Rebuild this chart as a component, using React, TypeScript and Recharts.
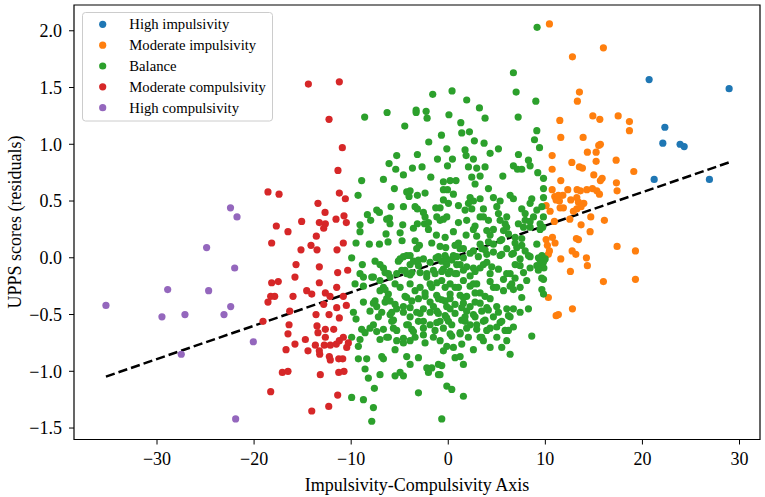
import React from 'react';
import { ScatterChart, Scatter, XAxis, YAxis, ReferenceLine, ReferenceArea } from 'recharts';

// Tick positions
const xTicks = [-30, -20, -10, 0, 10, 20, 30];
const yTicks = [-1.5, -1, -0.5, 0, 0.5, 1, 1.5, 2];

// Group points [axis score, UPPS residual]
const highImpulsivity: [number, number][] = [
  [20.69, 1.57], [28.93, 1.49], [22.31, 1.15], [22.1, 1.01], [23.88, 1.0], [24.3, 0.98], [21.21, 0.69], [26.9, 0.69],
];

const moderateImpulsivity: [number, number][] = [
  [10.42, 2.06], [15.98, 1.85], [12.79, 1.77], [13.51, 1.46], [13.3, 1.38], [11.49, 1.21], [14.89, 1.25], [15.61, 1.22],
  [17.5, 1.25], [18.66, 1.2], [18.66, 1.12], [11.59, 1.06], [13.89, 1.06], [15.67, 1.0], [15.5, 0.99], [10.7, 0.9],
  [14.33, 0.93], [15.23, 0.93], [12.73, 0.84], [15.23, 0.85], [17.29, 0.86], [13.51, 0.8], [13.82, 0.79], [10.7, 0.78],
  [19.11, 0.76], [14.99, 0.73], [15.85, 0.7], [15.67, 0.68], [11.59, 0.68], [17.32, 0.66], [17.39, 0.59], [10.7, 0.6],
  [12.31, 0.6], [13.27, 0.6], [13.61, 0.59], [14.27, 0.6], [14.85, 0.61], [15.3, 0.59], [15.57, 0.56], [10.97, 0.54],
  [11.34, 0.55], [11.8, 0.55], [11.11, 0.51], [11.45, 0.5], [12.62, 0.51], [13.24, 0.53], [13.41, 0.49], [13.96, 0.48],
  [10.08, 0.46], [11.52, 0.44], [11.86, 0.44], [10.49, 0.41], [12.89, 0.41], [13.24, 0.43], [13.68, 0.45], [14.68, 0.36],
  [16.08, 0.33], [12.52, 0.34], [10.93, 0.32], [13.68, 0.29], [14.61, 0.23], [10.08, 0.16], [10.73, 0.18], [11.0, 0.13],
  [13.2, 0.17], [13.41, 0.16], [10.21, 0.11], [10.42, 0.06], [10.31, 0.03], [12.76, 0.06], [13.14, 0.03], [17.39, 0.1],
  [19.28, 0.06], [11.59, -0.01], [14.23, 0.0], [14.33, -0.07], [12.58, -0.12], [15.98, -0.21], [19.28, -0.19],
  [10.31, -0.35], [11.11, -0.51], [11.34, -0.5], [12.79, -0.45],
];

const balance: [number, number][] = [
  // upper left block
  [-1.6, 1.44], [-8.61, 1.24], [-6.3, 1.28], [-3.31, 1.3], [-3.31, 1.28], [-2.28, 1.29], [-2.18, 1.23], [0.07, 1.26],
  [-4.48, 1.16], [-0.7, 1.08], [-2.01, 1.02], [-0.15, 0.96], [-5.31, 0.9], [-3.18, 0.91], [-6.1, 0.83], [-1.11, 0.87],
  [-5.41, 0.78], [-3.69, 0.79], [-2.7, 0.8], [-0.08, 0.81], [-4.62, 0.73], [-8.92, 0.68], [-6.68, 0.69], [-1.8, 0.71],
  [-0.5, 0.67], [-5.55, 0.61], [-9.29, 0.55], [-3.93, 0.59], [-4.28, 0.58], [-4.04, 0.54], [-3.18, 0.55], [-2.39, 0.57],
  [-0.5, 0.6], [-0.08, 0.6], [-7.37, 0.42], [-7.09, 0.4], [-5.89, 0.45], [-4.62, 0.45], [-3.42, 0.45], [-3.18, 0.43],
  [-1.29, 0.44], [-0.5, 0.51], [0.02, 0.48], [-8.33, 0.38], [-7.99, 0.33], [-6.06, 0.35], [-6.34, 0.34], [-6.0, 0.3],
  [-2.56, 0.4], [-2.39, 0.36], [-2.45, 0.3], [-2.04, 0.31], [-1.18, 0.36], [-0.84, 0.33], [-0.5, 0.34], [-0.15, 0.36],
  [-9.09, 0.29], [-9.09, 0.23], [-4.69, 0.29], [-3.59, 0.26], [-3.18, 0.3], [-2.04, 0.25], [-6.41, 0.21], [-4.96, 0.22],
  [-1.22, 0.2], [-0.32, 0.18], [-9.5, 0.13], [-8.13, 0.12], [-7.09, 0.12], [-6.2, 0.14], [-4.76, 0.15], [-3.42, 0.15],
  [-2.97, 0.11], [-1.7, 0.13], [-0.26, 0.09], [-0.84, 0.44],
  // lower left block
  [-9.95, 0.0], [-8.85, -0.06], [-7.54, -0.03], [-7.03, -0.06], [-6.68, -0.09], [-6.51, -0.13], [-4.96, -0.01],
  [-4.28, 0.02], [-3.93, -0.06], [-3.59, -0.03], [-3.07, -0.07], [-2.56, -0.01], [-1.87, -0.04], [-1.25, 0.0],
  [-0.67, -0.03], [-0.15, -0.01], [-9.09, -0.14], [-8.74, -0.17], [-7.88, -0.17], [-7.03, -0.2], [-6.68, -0.26],
  [-5.99, -0.17], [-5.31, -0.14], [-4.79, -0.11], [-4.28, -0.14], [-3.76, -0.13], [-2.9, -0.13], [-2.21, -0.14],
  [-1.53, -0.11], [-0.5, -0.1], [0.02, -0.14], [-9.6, -0.23], [-8.74, -0.25], [-7.03, -0.29], [-6.17, -0.32],
  [-4.96, -0.26], [-3.93, -0.23], [-3.42, -0.29], [-2.9, -0.26], [-1.87, -0.23], [-1.18, -0.22], [-0.32, -0.26],
  [0.19, -0.23], [-8.74, -0.39], [-7.54, -0.38], [-6.51, -0.39], [-5.99, -0.38], [-5.48, -0.41], [-4.28, -0.35],
  [-3.76, -0.38], [-3.07, -0.36], [-2.39, -0.34], [-1.87, -0.39], [-1.01, -0.36], [-0.32, -0.38], [-9.77, -0.48],
  [-9.5, -0.54], [-8.06, -0.47], [-6.85, -0.48], [-5.99, -0.5], [-5.31, -0.45], [-4.62, -0.48], [-3.93, -0.44],
  [-3.25, -0.48], [-2.56, -0.45], [-1.87, -0.48], [-1.18, -0.47], [-0.32, -0.51], [0.19, -0.45], [-8.92, -0.63],
  [-8.57, -0.66], [-8.06, -0.62], [-7.71, -0.59], [-6.68, -0.63], [-5.82, -0.56], [-5.65, -0.62], [-4.28, -0.59],
  [-3.76, -0.63], [-3.07, -0.56], [-2.56, -0.62], [-1.87, -0.59], [-1.18, -0.57], [-0.5, -0.62], [0.02, -0.56],
  [-9.95, -0.7], [-9.09, -0.72], [-9.26, -0.78], [-7.03, -0.72], [-6.17, -0.7], [-5.31, -0.73], [-5.48, -0.81],
  [-4.62, -0.75], [-3.93, -0.73], [-3.42, -0.7], [-2.39, -0.75], [-1.53, -0.7], [-0.84, -0.73], [-0.15, -0.78],
  [-0.5, -0.82], [-9.26, -0.89], [-8.4, -0.89], [-6.85, -0.87], [-6.68, -0.89], [-4.28, -0.87], [-3.93, -0.94],
  [-3.07, -0.88], [-2.21, -0.97], [-1.7, -0.97], [-1.01, -0.94], [-2.04, -1.01], [-1.01, -1.03], [-8.57, -0.98],
  [-8.23, -1.06], [-7.03, -1.03], [-5.48, -1.04], [-4.96, -1.01], [-4.62, -1.04], [-7.61, -1.15], [-3.07, -1.19],
  [-0.15, -1.13], [-9.95, -1.23], [-8.74, -1.25], [-7.71, -1.32], [-7.88, -1.44], [-0.67, -1.42],
  // dense core, left half
  [1.05, 0.13], [-3.25, 0.08], [-0.84, 0.1], [-5.14, -0.03], [-4.62, 0.01], [-3.93, 0.02], [-3.08, -0.02],
  [-1.02, 0.01], [-0.33, 0.02], [0.36, -0.02], [0.87, 0.01], [-0.16, -0.06], [1.22, -0.06], [-7.71, -0.17],
  [-6.17, -0.14], [-5.48, -0.23], [-4.45, -0.11], [-3.93, -0.15], [-2.22, -0.17], [-1.36, -0.14], [-0.67, -0.12],
  [0.19, -0.12], [0.87, -0.14], [-6.51, -0.28], [-1.7, -0.26], [1.05, -0.26], [-7.71, -0.4], [-6.34, -0.36],
  [-4.45, -0.34], [-2.39, -0.31], [-1.19, -0.33], [-0.67, -0.37], [0.19, -0.36], [1.22, -0.33], [1.56, -0.4],
  [-7.37, -0.43], [-4.62, -0.43], [-1.53, -0.43], [-0.16, -0.43], [-7.2, -0.52], [-5.82, -0.48], [-5.65, -0.55],
  [-3.93, -0.52], [-2.9, -0.49], [-2.56, -0.56], [-1.02, -0.49], [-0.16, -0.53], [0.7, -0.49], [1.39, -0.55],
  [-4.11, -0.59], [0.36, -0.59], [-7.37, -0.65], [-6.34, -0.7], [-5.31, -0.64], [-3.59, -0.65], [-2.56, -0.68],
  [-1.36, -0.64], [0.19, -0.67], [1.22, -0.67], [-4.62, -0.71],
  // upper right block
  [6.71, 1.63], [0.39, 1.47], [6.99, 1.46], [1.9, 1.39], [3.21, 1.32], [9.02, 1.38], [3.79, 1.23], [7.2, 1.24],
  [1.29, 1.19], [9.12, 1.12], [1.39, 1.1], [2.18, 1.11], [8.88, 1.04], [2.69, 1.03], [3.69, 1.01], [9.4, 0.97],
  [1.73, 0.95], [1.84, 0.9], [5.17, 0.96], [4.31, 0.92], [0.43, 0.87], [2.59, 0.87], [7.23, 0.91], [8.26, 0.86],
  [8.43, 0.81], [2.08, 0.8], [2.93, 0.79], [3.79, 0.8], [6.71, 0.81], [7.13, 0.78], [7.57, 0.78], [9.22, 0.75],
  [9.81, 0.7], [5.62, 0.72], [2.42, 0.71], [3.28, 0.72], [0.19, 0.68], [0.8, 0.68], [2.76, 0.65], [4.14, 0.61],
  [9.81, 0.61], [0.53, 0.56], [2.25, 0.53], [2.59, 0.5], [2.08, 0.48], [3.28, 0.52], [4.65, 0.53], [5.34, 0.5],
  [6.37, 0.55], [6.71, 0.52], [8.6, 0.52], [9.81, 0.53], [1.05, 0.46], [1.73, 0.42], [2.42, 0.43], [3.62, 0.43],
  [5.0, 0.45], [5.17, 0.39], [7.57, 0.43], [7.92, 0.39], [8.43, 0.48], [9.12, 0.42], [9.64, 0.45], [1.05, 0.31],
  [1.9, 0.33], [3.28, 0.36], [4.14, 0.33], [6.03, 0.36], [5.86, 0.3], [7.92, 0.33], [8.78, 0.36], [9.46, 0.3],
  [2.76, 0.28], [2.59, 0.25], [0.53, 0.23], [1.84, 0.2], [3.97, 0.24], [4.31, 0.2], [5.69, 0.24], [6.2, 0.21],
  [7.75, 0.27], [8.43, 0.27], [6.89, 0.18], [5.34, 0.15], [3.28, 0.12], [4.14, 0.14], [0.7, 0.11], [7.57, 0.11],
  [9.12, 0.12], [1.22, 0.08], [7.06, 0.09], [9.15, 2.03], [9.8, 0.36], [9.73, 0.27],
  // lower right block
  [0.53, 0.02], [1.56, 0.0], [2.59, 0.06], [3.45, 0.08], [3.97, 0.03], [4.65, 0.12], [5.51, 0.03], [6.03, 0.08],
  [6.54, 0.03], [7.92, 0.06], [8.26, 0.02], [9.29, 0.0], [9.98, -0.01], [9.46, -0.07], [0.87, -0.06], [0.7, -0.14],
  [1.56, -0.11], [2.25, -0.16], [2.59, -0.09], [3.28, -0.09], [3.97, -0.04], [4.31, -0.14], [5.17, -0.1], [5.69, -0.19],
  [6.37, -0.14], [6.89, -0.06], [7.4, -0.07], [7.75, -0.13], [8.43, -0.09], [9.12, -0.07], [9.81, -0.19], [-0.67, -0.2],
  [0.7, -0.26], [1.56, -0.35], [2.25, -0.25], [2.93, -0.23], [3.28, -0.31], [3.79, -0.34], [4.31, -0.36], [4.65, -0.26],
  [5.69, -0.29], [6.37, -0.25], [6.54, -0.23], [7.4, -0.26], [7.57, -0.35], [9.64, -0.28], [9.81, -0.32], [0.19, -0.32],
  [0.7, -0.41], [1.39, -0.44], [1.9, -0.47], [2.59, -0.5], [3.45, -0.47], [2.76, -0.39], [3.97, -0.44], [5.17, -0.48],
  [6.03, -0.45], [6.2, -0.51], [7.4, -0.48], [8.26, -0.45], [-0.85, -0.56], [1.73, -0.56], [2.25, -0.59], [3.62, -0.56],
  [4.31, -0.62], [5.34, -0.57], [6.2, -0.64], [8.6, -0.69], [0.36, -0.69], [1.22, -0.66], [2.93, -0.63], [3.45, -0.7],
  [5.0, -0.7], [6.03, -0.73], [0.53, -0.79], [1.39, -0.76], [2.59, -0.81], [3.62, -0.73], [4.31, -0.79], [5.51, -0.79],
  [6.37, -0.85], [0.7, -0.88], [1.22, -0.87], [-0.67, -0.95], [1.56, -0.94], [-0.85, -1.03], [0.36, -1.16], [1.56, -1.22],
  [9.65, 0.02], [9.8, -0.04], [9.85, -0.09],
  // dense core, right half
  [3.62, 0.36], [5.34, 0.33], [6.02, 0.27], [7.22, 0.3], [8.43, 0.32], [2.93, 0.19], [4.65, 0.25], [5.51, 0.16],
  [6.88, 0.13], [7.57, 0.17], [9.46, 0.25], [1.56, 0.08], [2.25, 0.04], [3.1, 0.01], [3.79, 0.07], [4.65, 0.05],
  [5.34, 0.02], [6.71, 0.04], [7.4, -0.01], [8.43, 0.01], [9.46, -0.02], [1.9, -0.08], [2.76, -0.12], [3.62, -0.06],
  [4.48, -0.08], [6.02, -0.14], [9.28, -0.11], [1.56, -0.2], [2.59, -0.23], [4.31, -0.21], [4.99, -0.26], [6.88, -0.18],
  [8.08, -0.2], [9.63, -0.18], [1.9, -0.34], [2.76, -0.31], [6.71, -0.28], [2.25, -0.43], [3.28, -0.4], [4.13, -0.46],
  [4.99, -0.43], [6.71, -0.45], [1.73, -0.52], [2.76, -0.52], [3.79, -0.55], [4.65, -0.52], [5.51, -0.56], [6.37, -0.52],
  [1.9, -0.62], [2.93, -0.59], [3.96, -0.64], [4.99, -0.61], [5.85, -0.64], [6.71, -0.61], [2.07, -0.7], [3.28, -0.7],
];

const moderateCompulsivity: [number, number][] = [
  [-14.41, 1.53], [-11.22, 1.55], [-12.28, 1.22], [-11.36, 0.77], [-11.22, 0.57], [-18.57, 0.58], [-17.43, 0.56],
  [-13.42, 0.48], [-12.69, 0.4], [-15.1, 0.32], [-17.71, 0.28], [-13.28, 0.31], [-12.66, 0.3], [-12.83, 0.26],
  [-11.56, 0.34], [-16.51, 0.23], [-13.59, 0.19], [-18.19, 0.13], [-14.14, 0.11], [-15.17, 0.07], [-13.52, 0.07],
  [-11.46, 0.07], [-15.68, -0.06], [-13.28, -0.08], [-11.39, -0.13], [-15.79, -0.17], [-18.19, -0.22], [-17.51, -0.21],
  [-13.28, -0.22], [-14.58, -0.29], [-14.06, -0.32], [-11.49, -0.26], [-12.66, -0.31], [-18.29, -0.34], [-17.88, -0.34],
  [-18.57, -0.39], [-15.99, -0.34], [-12.83, -0.41], [-11.49, -0.44], [-16.33, -0.47], [-13.62, -0.5], [-12.28, -0.5],
  [-11.22, -0.53], [-19.08, -0.56], [-16.4, -0.59], [-13.52, -0.6], [-13.42, -0.66], [-12.66, -0.63], [-11.8, -0.63],
  [-16.51, -0.67], [-12.66, -0.7], [-14.72, -0.72], [-15.79, -0.76], [-13.69, -0.77], [-12.77, -0.77], [-12.15, -0.77],
  [-11.53, -0.76], [-16.71, -0.81], [-14.45, -0.82], [-13.28, -0.82], [-13.24, -0.85], [-12.25, -0.87], [-12.15, -0.9],
  [-11.28, -0.89], [-17.09, -1.01], [-16.51, -1.0], [-13.18, -1.03], [-11.28, -1.01], [-18.29, -1.18], [-11.39, -1.21],
  [-12.31, -1.31], [-14.06, -1.35], [-10.91, 0.97], [-10.6, 0.52], [-10.74, 0.37], [-10.5, 0.31], [-10.81, 0.13],
  [-10.36, -0.11], [-12.18, -0.34], [-10.81, -0.34], [-10.5, -0.42], [-10.81, -0.7], [-11.22, -0.73], [-10.29, -0.75],
  [-10.46, -0.79], [-10.87, -0.89], [-10.74, -1.0],
];

const highCompulsivity: [number, number][] = [
  [-22.43, 0.44], [-21.76, 0.36], [-24.89, 0.09], [-22.0, -0.09], [-28.9, -0.28], [-24.68, -0.29], [-35.26, -0.42],
  [-22.41, -0.43], [-29.49, -0.52], [-27.12, -0.5], [-23.1, -0.5], [-20.08, -0.74], [-27.5, -0.85], [-21.9, -1.42],
];

// Linear fit of UPPS residual on axis score
const fitSlope = 0.0294;
const fitIntercept = -0.01;

const groups = [
  { name: 'High impulsivity', color: '#1f77b4', points: highImpulsivity },
  { name: 'Moderate impulsivity', color: '#ff7f0e', points: moderateImpulsivity },
  { name: 'Balance', color: '#2ca02c', points: balance },
  { name: 'Moderate compulsivity', color: '#d62728', points: moderateCompulsivity },
  { name: 'High compulsivity', color: '#9467bd', points: highCompulsivity },
];

const X_DOMAIN: [number, number] = [-38.55, 32.11];
const Y_DOMAIN: [number, number] = [-1.601, 2.227];
const FONT = 'Liberation Serif, Times New Roman, serif';

const allX = groups.flatMap((g) => g.points.map((p) => p[0]));
const fitLo = Math.min(...allX);
const fitHi = Math.max(...allX);

const fmt = (v: number, digits: number) => v.toFixed(digits).replace('-', '\u2212');

const dot = (color: string) => (props: any) => (
  <circle cx={props.cx} cy={props.cy} r={3.6} fill={color} />
);

const XTick = (props: any) => (
  <text x={props.x} y={props.y} dy="0.71em" textAnchor="middle" style={{ fontFamily: FONT, fontSize: 18 }} fill="#000">
    {fmt(props.payload.value, 0)}
  </text>
);

const YTick = (props: any) => (
  <text x={props.x} y={props.y} dy="0.355em" textAnchor="end" style={{ fontFamily: FONT, fontSize: 18 }} fill="#000">
    {fmt(props.payload.value, 1)}
  </text>
);

export default function App() {
  return (
    <div style={{ position: 'absolute', left: 0, top: 0, width: 765, height: 497, background: '#fff', fontFamily: FONT }}>
      <ScatterChart width={765} height={497} margin={{ top: 5, right: 5, bottom: 0, left: 0 }} style={{ fontFamily: FONT }}>
        <XAxis
          type="number"
          dataKey="x"
          domain={X_DOMAIN}
          ticks={xTicks}
          allowDataOverflow
          axisLine={false}
          tickLine={{ stroke: '#000' }}
          tickSize={5}
          tickMargin={8}
          height={57.5}
          tick={<XTick />}
        />
        <YAxis
          type="number"
          dataKey="y"
          domain={Y_DOMAIN}
          ticks={yTicks}
          allowDataOverflow
          axisLine={false}
          tickLine={{ stroke: '#000' }}
          tickSize={5}
          tickMargin={7}
          width={74}
          tick={<YTick />}
        />
        {groups.map((g) => (
          <Scatter
            key={g.name}
            name={g.name}
            data={g.points.map(([x, y]) => ({ x, y }))}
            fill={g.color}
            shape={dot(g.color)}
            isAnimationActive={false}
          />
        ))}
        <ReferenceLine
          segment={[
            { x: fitLo, y: fitIntercept + fitSlope * fitLo },
            { x: fitHi, y: fitIntercept + fitSlope * fitHi },
          ]}
          stroke="#000"
          strokeWidth={2.5}
          strokeDasharray="9.25 4"
          ifOverflow="visible"
        />
        <ReferenceArea
          x1={X_DOMAIN[0]}
          x2={X_DOMAIN[1]}
          y1={Y_DOMAIN[0]}
          y2={Y_DOMAIN[1]}
          fill="none"
          fillOpacity={0}
          stroke="#000"
          strokeWidth={1.2}
          ifOverflow="visible"
        />
      </ScatterChart>
      <svg
        width={765}
        height={497}
        style={{ position: 'absolute', left: 0, top: 0, pointerEvents: 'none', fontFamily: FONT }}
      >
        <text x={417} y={490.5} textAnchor="middle" fontSize={18} fill="#000">
          Impulsivity-Compulsivity Axis
        </text>
        <text x={20.5} y={222} textAnchor="middle" fontSize={18} fill="#000" transform="rotate(-90 20.5 222)">
          UPPS scores (residuals)
        </text>
        <rect x={82.5} y={12.5} width={190} height={108.5} rx={3} fill="#fff" fillOpacity={0.8} stroke="#cccccc" strokeWidth={1} />
        {groups.map((g, i) => (
          <g key={g.name}>
            <circle cx={102.7} cy={24.3 + i * 20.85} r={3.6} fill={g.color} />
            <text x={129.3} y={24.3 + i * 20.85} dominantBaseline="central" fontSize={14.7} fill="#000">
              {g.name}
            </text>
          </g>
        ))}
      </svg>
    </div>
  );
}
